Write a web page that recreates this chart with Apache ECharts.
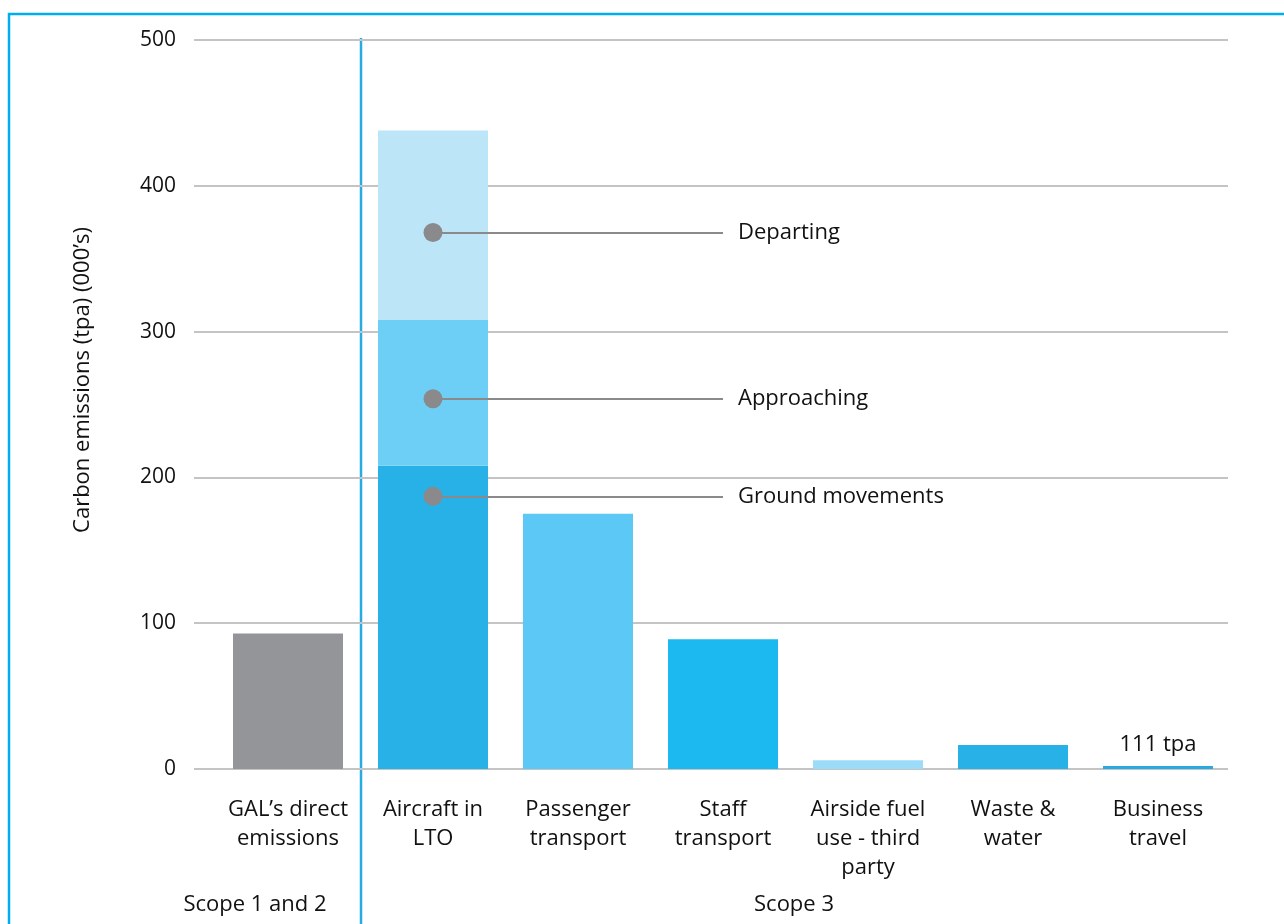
<!DOCTYPE html>
<html><head><meta charset="utf-8">
<script src="https://cdn.jsdelivr.net/npm/echarts@6/dist/echarts.min.js"></script>
<style>html,body{margin:0;padding:0;background:#fff}#c{width:1284px;height:924px}</style>
</head><body><div id="c"></div>
<script>
const categories = ["GAL’s direct\nemissions", "Aircraft in\nLTO", "Passenger\ntransport", "Staff\ntransport", "Airside fuel\nuse - third\nparty", "Waste &\nwater", "Business\ntravel"];
const mainValues = [93, null, 175, 89, 6, 16.5, 0.111];
const groundMovements = [null, 208, null, null, null, null, null];
const approaching = [null, 100, null, null, null, null, null];
const departing = [null, 130, null, null, null, null, null];
const yTicks = [0, 100, 200, 300, 400, 500];
const callouts = [["Departing", 368], ["Approaching", 254], ["Ground movements", 187]];
const scopeLabels = ["Scope 1 and 2", "Scope 3"];
const yAxisTitle = "Carbon emissions (tpa) (000’s)";

const FONT = "Open Sans";
const TXT = '#111111';
const mainColors = ["#939598", null, "#5bc8f5", "#1bb9ef", "#9cdcf9", "#27b1e6", "#27aae1"];

const chart = echarts.init(document.getElementById('c'), null, {renderer: 'canvas'});
const option = {
  animation: false,
  textStyle: {fontFamily: FONT},
  grid: [
    {left: 194, right: 56, top: 40, bottom: 155},
    {left: 215.5, right: 53.5, top: 40, bottom: 155}
  ],
  xAxis: [
    {gridIndex: 0, type: 'value', show: false, min: 0, max: 1},
    {gridIndex: 1, type: 'category', data: categories,
     axisLine: {show: false}, axisTick: {show: false},
     axisLabel: {color: TXT, fontSize: 22, lineHeight: 29, margin: 26, interval: 0, fontFamily: FONT}}
  ],
  yAxis: [
    {gridIndex: 0, type: 'value', min: yTicks[0], max: yTicks[yTicks.length-1], interval: 100,
     axisLine: {show: false}, axisTick: {show: false},
     splitLine: {lineStyle: {color: '#c4c4c4', width: 2}},
     axisLabel: {color: TXT, fontSize: 21, margin: 18, fontFamily: FONT}},
    {gridIndex: 1, type: 'value', min: yTicks[0], max: yTicks[yTicks.length-1], interval: 100, show: false, splitLine: {show: false}}
  ],
  series: [
    {type: 'bar', xAxisIndex: 1, yAxisIndex: 1, stack: 'total', barWidth: 110, barMinHeight: 3,
     data: mainValues.map((v, i) => v == null ? '-' : {value: v, itemStyle: {color: mainColors[i]},
       label: i === 6 ? {show: true, position: 'top', distance: 10, formatter: '111 tpa', color: TXT, fontSize: 22, fontFamily: FONT} : {show: false}}),
     markLine: {
       silent: true, symbol: ['circle', 'none'], symbolSize: [19, 0],
       lineStyle: {color: '#8a8a8c', width: 2, type: 'solid'},
       itemStyle: {color: '#8a8a8c'},
       label: {show: true, position: 'end', distance: 15, formatter: '{b}', color: TXT, fontSize: 22, fontFamily: FONT},
       data: callouts.map(c => [
         {name: c[0], coord: [categories[1], c[1]], symbol: 'circle', symbolSize: 19, itemStyle: {color: '#8a8a8c'}},
         {coord: [categories[3], c[1]], symbol: 'none'}
       ])
     }},
    {type: 'bar', xAxisIndex: 1, yAxisIndex: 1, stack: 'total', barWidth: 110, itemStyle: {color: '#27b1e6'},
     data: groundMovements.map(v => v == null ? '-' : v)},
    {type: 'bar', xAxisIndex: 1, yAxisIndex: 1, stack: 'total', barWidth: 110, itemStyle: {color: '#6dcff6'},
     data: approaching.map(v => v == null ? '-' : v)},
    {type: 'bar', xAxisIndex: 1, yAxisIndex: 1, stack: 'total', barWidth: 110, itemStyle: {color: '#bde5f8'},
     data: departing.map(v => v == null ? '-' : v)}
  ],
  graphic: [
    {type: 'polyline', silent: true, shape: {points: [[9, 924], [9, 14], [1284, 14]]},
     style: {stroke: '#00aeef', lineWidth: 2.5, fill: null}},
    {type: 'line', silent: true, shape: {x1: 361, y1: 38, x2: 361, y2: 924},
     style: {stroke: '#29abe2', lineWidth: 2.5}},
    {type: 'text', x: 83, y: 380, rotation: Math.PI/2,
     style: {text: yAxisTitle, fill: TXT, font: '22px "' + FONT + '"', textAlign: 'center', textVerticalAlign: 'middle'}},
    {type: 'text', x: 255, y: 905,
     style: {text: scopeLabels[0], fill: TXT, font: '22px "' + FONT + '"', textAlign: 'center', textVerticalAlign: 'middle'}},
    {type: 'text', x: 794, y: 905,
     style: {text: scopeLabels[1], fill: TXT, font: '22px "' + FONT + '"', textAlign: 'center', textVerticalAlign: 'middle'}}
  ]
};
chart.setOption(option);
</script></body></html>
